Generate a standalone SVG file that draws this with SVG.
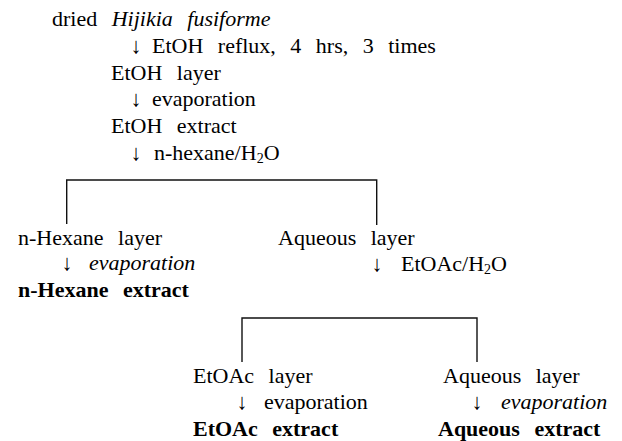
<svg xmlns="http://www.w3.org/2000/svg" width="622" height="441" viewBox="0 0 622 441">
<rect width="622" height="441" fill="#fff"/>
<g id="n1"><text font-family="Liberation Serif" font-size="22" x="52" y="26">dried <tspan dx="9" font-style="italic">Hijikia</tspan> <tspan dx="9" font-style="italic">fusiforme</tspan></text></g>
<g id="s1"><text font-family="Liberation Serif" font-size="22" text-anchor="middle" x="136" y="53">↓</text><text font-family="Liberation Serif" font-size="22" x="152" y="53">EtOH <tspan dx="9">reflux,</tspan> <tspan dx="9">4</tspan> <tspan dx="9">hrs,</tspan> <tspan dx="9">3</tspan> <tspan dx="9">times</tspan></text></g>
<g id="n2"><text font-family="Liberation Serif" font-size="22" x="111" y="80">EtOH <tspan dx="9">layer</tspan></text></g>
<g id="s2"><text font-family="Liberation Serif" font-size="22" text-anchor="middle" x="136" y="106">↓</text><text font-family="Liberation Serif" font-size="22" x="152" y="106">evaporation</text></g>
<g id="n3"><text font-family="Liberation Serif" font-size="22" x="111" y="133">EtOH <tspan dx="9">extract</tspan></text></g>
<g id="s3"><text font-family="Liberation Serif" font-size="22" text-anchor="middle" x="136" y="160">↓</text><text font-family="Liberation Serif" font-size="22" x="154" y="160">n-hexane/H<tspan font-size="14" dy="3">2</tspan><tspan dy="-3">O</tspan></text></g>
<g id="n4"><text font-family="Liberation Serif" font-size="22" x="18" y="245">n-Hexane <tspan dx="9">layer</tspan></text></g>
<g id="s4"><text font-family="Liberation Serif" font-size="22" text-anchor="middle" x="67" y="270">↓</text><text font-family="Liberation Serif" font-size="22" font-style="italic" x="89" y="270">evaporation</text></g>
<g id="n5"><text font-family="Liberation Serif" font-size="22" font-weight="bold" x="18" y="297">n-Hexane <tspan dx="9">extract</tspan></text></g>
<g id="n6"><text font-family="Liberation Serif" font-size="22" x="278" y="245">Aqueous <tspan dx="9">layer</tspan></text></g>
<g id="s6"><text font-family="Liberation Serif" font-size="22" text-anchor="middle" x="377" y="271">↓</text><text font-family="Liberation Serif" font-size="22" x="401" y="271">EtOAc/H<tspan font-size="14" dy="3">2</tspan><tspan dy="-3">O</tspan></text></g>
<g id="n7"><text font-family="Liberation Serif" font-size="22" x="193" y="383">EtOAc <tspan dx="9">layer</tspan></text></g>
<g id="s7"><text font-family="Liberation Serif" font-size="22" text-anchor="middle" x="242" y="409">↓</text><text font-family="Liberation Serif" font-size="22" x="264" y="409">evaporation</text></g>
<g id="n8"><text font-family="Liberation Serif" font-size="22" font-weight="bold" x="193" y="436">EtOAc <tspan dx="9">extract</tspan></text></g>
<g id="n9"><text font-family="Liberation Serif" font-size="22" x="443" y="383">Aqueous <tspan dx="9">layer</tspan></text></g>
<g id="s9"><text font-family="Liberation Serif" font-size="22" text-anchor="middle" x="477" y="409">↓</text><text font-family="Liberation Serif" font-size="22" font-style="italic" x="501" y="409">evaporation</text></g>
<g id="n10"><text font-family="Liberation Serif" font-size="22" font-weight="bold" x="438" y="436">Aqueous <tspan dx="9">extract</tspan></text></g>
<g id="connectors" stroke="#111" stroke-width="1.4" fill="none">
<path d="M66.7,224 V180 H376.7 V225"/>
<path d="M242,362 V318 H477 V362"/>
</g>
</svg>
